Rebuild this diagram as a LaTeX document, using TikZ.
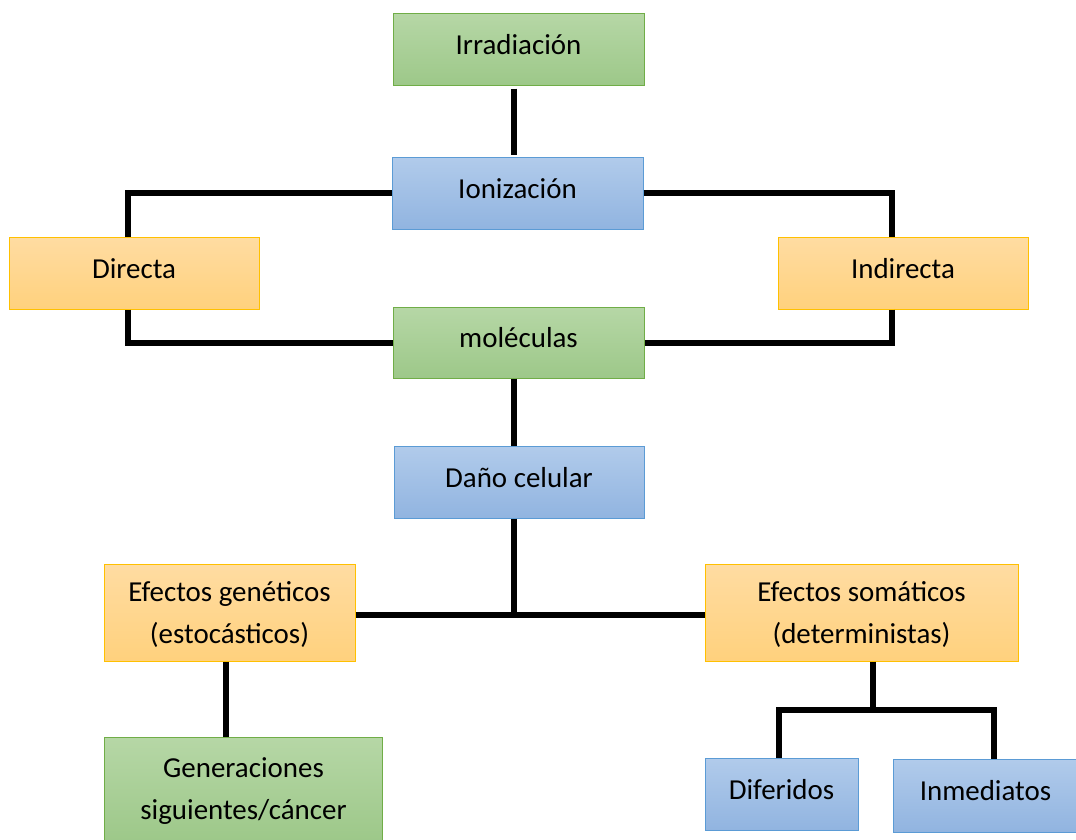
\documentclass[tikz,border=0pt]{standalone}
\usepackage{fontspec}
\setmainfont{Carlito}
\definecolor{gtop}{RGB}{182,215,166}
\definecolor{gbot}{RGB}{157,200,137}
\definecolor{gbrd}{RGB}{112,173,71}
\definecolor{btop}{RGB}{177,203,235}
\definecolor{bbot}{RGB}{145,180,224}
\definecolor{bbrd}{RGB}{91,155,213}
\definecolor{otop}{RGB}{255,220,162}
\definecolor{obot}{RGB}{255,209,125}
\definecolor{obrd}{RGB}{255,192,0}
\begin{document}
\begin{tikzpicture}[x=0.75pt,y=-0.75pt,
  box/.style={rectangle, line width=0.75pt, inner sep=0pt},
  gbox/.style={box, draw=gbrd, top color=gtop, bottom color=gbot},
  bbox/.style={box, draw=bbrd, top color=btop, bottom color=bbot},
  obox/.style={box, draw=obrd, top color=otop, bottom color=obot},
  sz/.style 2 args={minimum width=#1*0.75pt, minimum height=#2*0.75pt},
  txt/.style={align=center, inner sep=0pt, text=black,
    font=\fontsize{21.7}{31}\selectfont},
  one/.style={label={[txt, yshift=3.5pt]center:#1}},
  two/.style={label={[txt, yshift=-1.5pt]center:#1}},
  conn/.style={line width=4.5pt, draw=black}]
\useasboundingbox (0,0) rectangle (1076,840);
\fill[white] (0,0) rectangle (1076,840);
% nodes
\node[gbox, sz={251}{72}, one={Irradiación}] (irr) at (518.5,49) {};
\node[bbox, sz={251}{72}, one={Ionización}] (ion) at (517.5,193) {};
\node[obox, sz={250}{72}, one={Directa}] (dir) at (134,273) {};
\node[obox, sz={250}{72}, one={Indirecta}] (ind) at (903,273) {};
\node[gbox, sz={251}{71}, one={moléculas}] (mol) at (518.5,342.5) {};
\node[bbox, sz={250}{72}, one={Daño celular}] (dan) at (519,482) {};
\node[obox, sz={251}{97}, two={Efectos genéticos\\(estocásticos)}] (gen) at (229.5,612.5) {};
\node[obox, sz={313}{97}, two={Efectos somáticos\\(deterministas)}] (som) at (861.5,612.5) {};
\node[gbox, sz={278}{104}, two={Generaciones\\siguientes/cáncer}] (sig) at (243.5,789) {};
\node[bbox, sz={153}{72}, one={Diferidos}] (dif) at (781.5,794) {};
\node[bbox, sz={185}{73}, one={Inmediatos}] (inm) at (985.5,795.5) {};
% guide coordinates for connector columns
\coordinate (xc) at (513.5,0);
\coordinate (xd) at (128,0);
\coordinate (xi) at (892,0);
\coordinate (xg) at (226,0);
\coordinate (xs) at (873,0);
\coordinate (xf) at (779,0);
\coordinate (xm) at (994,0);
% connectors
\draw[conn] ([yshift=-2.25pt]irr.south -| xc) -- ([yshift=1.5pt]ion.north -| xc);
\draw[conn] (ion.west) -| (dir.north -| xd);
\draw[conn] (ion.east) -| (ind.north -| xi);
\draw[conn] (dir.south -| xd) |- (mol.west);
\draw[conn] (ind.south -| xi) |- (mol.east);
\draw[conn] (mol.south -| xc) -- (dan.north -| xc);
\coordinate (dj) at (513.5,617);
\draw[conn] (dan.south -| xc) -- (dj);
\draw[conn] ([yshift=-1.5pt]gen.east) -- ([yshift=-1.5pt]som.west);
\draw[conn] (gen.south -| xg) -- (sig.north -| xg);
\coordinate (sj) at (873,710);
\draw[conn] (som.south -| xs) -- (sj);
\draw[conn] (dif.north -| xf) |- (sj) -| (inm.north -| xm);
\end{tikzpicture}
\end{document}
